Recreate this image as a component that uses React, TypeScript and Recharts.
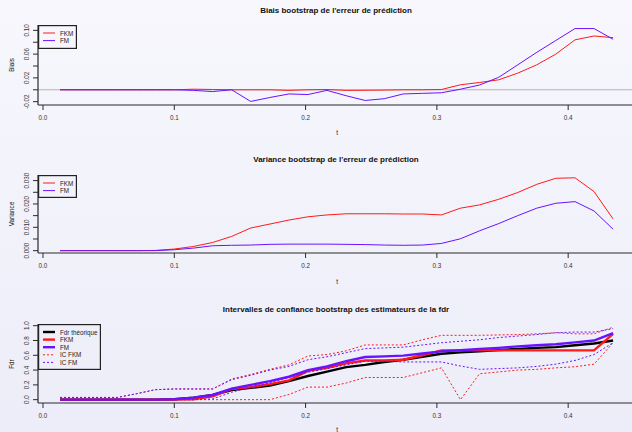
import React from 'react';
import { LineChart, Line, XAxis, YAxis, ReferenceLine } from 'recharts';

// grille des seuils t
const t = [
  0.013, 0.0275, 0.042, 0.0566, 0.0711, 0.0856, 0.1001, 0.1147, 0.1292, 0.1437,
  0.1582, 0.1728, 0.1873, 0.2018, 0.2163, 0.2309, 0.2454, 0.2599, 0.2744, 0.289,
  0.3035, 0.318, 0.3325, 0.3471, 0.3616, 0.3761, 0.3906, 0.4052, 0.4197, 0.4342,
];

// biais bootstrap
const biaisFKM = [
  0, 0, 0, 0, 0, 0, 0, 0.001, 0.0005, 0, 0, 0, -0.001, 0, 0.0005, -0.001, -0.0008, -0.0005, 0, 0,
  0.0005, 0.0084, 0.0123, 0.0168, 0.028, 0.042, 0.06, 0.084, 0.0905, 0.0877,
];
const biaisFM = [
  0, 0, 0, 0, 0, 0, 0, -0.001, -0.003, 0, -0.0196, -0.013, -0.007, -0.008, -0.001, -0.01, -0.018, -0.015, -0.007, -0.006,
  -0.005, 0.001, 0.008, 0.021, 0.042, 0.063, 0.083, 0.103, 0.103, 0.085,
];

// variance bootstrap
const varFKM = [
  0, 0, 0, 0, 0, 0.0001, 0.0007, 0.0018, 0.0035, 0.0061, 0.0097, 0.0114, 0.0131, 0.0145, 0.0153, 0.0158, 0.0158, 0.0158, 0.0157, 0.0157,
  0.0153, 0.0182, 0.0196, 0.022, 0.0249, 0.0284, 0.031, 0.0312, 0.0253, 0.0136,
];
const varFM = [
  0, 0, 0, 0, 0, 0, 0.0004, 0.0011, 0.0021, 0.0023, 0.0024, 0.0027, 0.0028, 0.0028, 0.0028, 0.0027, 0.0026, 0.0024, 0.0023, 0.0024,
  0.0031, 0.0051, 0.0085, 0.0116, 0.015, 0.0182, 0.0203, 0.021, 0.017, 0.0092,
];

// fdr et intervalles de confiance
const fdrTheo = [
  0, 0, 0, 0, 0, 0, 0.005, 0.027, 0.063, 0.13, 0.16, 0.19, 0.25, 0.32, 0.38, 0.44, 0.47, 0.51, 0.54, 0.58,
  0.62, 0.64, 0.655, 0.67, 0.685, 0.7, 0.71, 0.735, 0.76, 0.8,
];
const fdrFKM = [
  0, 0, 0, 0, 0, 0, 0, 0.005, 0.045, 0.145, 0.17, 0.21, 0.26, 0.39, 0.43, 0.49, 0.53, 0.53, 0.54, 0.6,
  0.667, 0.667, 0.667, 0.667, 0.667, 0.667, 0.667, 0.667, 0.667, 0.89,
];
const fdrFM = [
  0, 0, 0, 0, 0, 0, 0.005, 0.027, 0.063, 0.15, 0.2, 0.25, 0.31, 0.4, 0.45, 0.52, 0.577, 0.585, 0.595, 0.625,
  0.653, 0.668, 0.685, 0.7, 0.72, 0.735, 0.75, 0.775, 0.8, 0.9,
];
const icFKMup = [
  0.03, 0.03, 0.03, 0.03, 0.08, 0.135, 0.145, 0.145, 0.145, 0.28, 0.34, 0.41, 0.47, 0.59, 0.61, 0.66, 0.74, 0.74, 0.74, 0.81,
  0.87, 0.87, 0.87, 0.875, 0.88, 0.89, 0.905, 0.89, 0.89, 0.98,
];
const icFKMlow = [
  0, 0, 0, 0, 0, 0, 0, 0, 0, 0, 0, 0, 0.07, 0.17, 0.17, 0.225, 0.3, 0.3, 0.3, 0.365,
  0.43, 0, 0.35, 0.375, 0.4, 0.41, 0.43, 0.445, 0.48, 0.77,
];
const icFMup = [
  0.03, 0.03, 0.03, 0.03, 0.08, 0.135, 0.145, 0.145, 0.145, 0.27, 0.33, 0.4, 0.45, 0.54, 0.58, 0.635, 0.69, 0.7, 0.71, 0.74,
  0.77, 0.79, 0.81, 0.84, 0.86, 0.88, 0.905, 0.914, 0.914, 0.96,
];
const icFMlow = [
  0, 0, 0, 0, 0, 0, 0, 0, 0.01, 0.1, 0.17, 0.23, 0.3, 0.37, 0.42, 0.47, 0.52, 0.52, 0.51, 0.51,
  0.51, 0.455, 0.41, 0.42, 0.43, 0.45, 0.48, 0.53, 0.61, 0.77,
];

const xTicks = [0, 0.1, 0.2, 0.3, 0.4];
const biaisTicks = [-0.02, 0, 0.02, 0.04, 0.06, 0.08, 0.1];
const varTicks = [0, 0.005, 0.01, 0.015, 0.02, 0.025, 0.03];
const fdrTicks = [0, 0.2, 0.4, 0.6, 0.8, 1];

const RED = '#ff1a1a';
const BLUE = '#6a12ff';
const AXIS = '#2a2a2a';
const FONT = '"Liberation Sans", Arial, Helvetica, sans-serif';
const X_DOMAIN = [-0.0038, 0.4509];

const biaisData = t.map((v, i) => ({ t: v, fkm: biaisFKM[i], fm: biaisFM[i] }));
const varData = t.map((v, i) => ({ t: v, fkm: varFKM[i], fm: varFM[i] }));
const fdrData = t.map((v, i) => ({
  t: v,
  theo: fdrTheo[i],
  fkm: fdrFKM[i],
  fm: fdrFM[i],
  icFkmUp: icFKMup[i],
  icFkmLow: icFKMlow[i],
  icFmUp: icFMup[i],
  icFmLow: icFMlow[i],
}));

const XTick = (props: any) => (
  <text
    x={props.x}
    y={props.y + 7}
    textAnchor="middle"
    dominantBaseline="central"
    fontSize={6.3}
    fontFamily={FONT}
    fill="#333"
  >
    {Number(props.payload.value).toFixed(1)}
  </text>
);

const makeYTick = (step: number, digits: number) => (props: any) => {
  if (props.index % step !== 0) return <g />;
  const cx = props.x - 6;
  return (
    <text
      x={cx}
      y={props.y}
      transform={`rotate(-90, ${cx}, ${props.y})`}
      textAnchor="middle"
      dominantBaseline="central"
      fontSize={6.3}
      fontFamily={FONT}
      fill="#333"
    >
      {Number(props.payload.value).toFixed(digits)}
    </text>
  );
};

function Axes({ domain, ticks, step, digits, xHeight }: any) {
  return [
    <XAxis
      key="xb"
      dataKey="t"
      type="number"
      domain={X_DOMAIN}
      allowDataOverflow
      ticks={xTicks}
      interval={0}
      height={xHeight}
      tickSize={5}
      tickMargin={0}
      tick={<XTick />}
      axisLine={{ stroke: AXIS, strokeWidth: 1.2 }}
      tickLine={{ stroke: AXIS }}
    />,
    <XAxis
      key="xt"
      xAxisId="top"
      orientation="top"
      dataKey="t"
      type="number"
      domain={X_DOMAIN}
      allowDataOverflow
      height={0}
      tick={false}
      tickLine={false}
      axisLine={{ stroke: '#444', strokeWidth: 1.5 }}
    />,
    <YAxis
      key="y"
      type="number"
      domain={domain}
      allowDataOverflow
      ticks={ticks}
      interval={0}
      width={38}
      tickSize={5}
      tickMargin={0}
      tick={makeYTick(step, digits)}
      axisLine={{ stroke: AXIS, strokeWidth: 1.2 }}
      tickLine={{ stroke: AXIS }}
    />,
  ];
}

function LegendBox({ top, width, height, items }: any) {
  return (
    <g transform={`translate(38, ${top})`}>
      <rect x={0.6} y={0.6} width={width - 1.2} height={height - 1.2} fill="none" stroke="#222" strokeWidth={1.2} />
      {items.map((it: any, k: number) => {
        const y = 8 + k * 7.6;
        return (
          <g key={it.name}>
            <line x1={5} x2={17} y1={y} y2={y} stroke={it.color} strokeWidth={it.width} strokeDasharray={it.dash} />
            <text x={22} y={y} dominantBaseline="central" fontSize={6.3} fontFamily={FONT} fill="#222">
              {it.name}
            </text>
          </g>
        );
      })}
    </g>
  );
}

function Label({ x, y, text, bold, size, rotate }: any) {
  return (
    <text
      x={x}
      y={y}
      transform={rotate ? `rotate(-90, ${x}, ${y})` : undefined}
      textAnchor="middle"
      dominantBaseline="central"
      fontSize={size}
      fontWeight={bold ? 'bold' : 'normal'}
      fontFamily={FONT}
      fill="#111"
    >
      {text}
    </text>
  );
}

export default function App() {
  return (
    <div
      style={{
        position: 'fixed',
        left: 0,
        top: 0,
        width: 632,
        height: 432,
        overflow: 'hidden',
        background: 'linear-gradient(#f7f7fd, #ededf9)',
      }}
    >
      <div style={{ position: 'absolute', left: 0, top: 0 }}>
        <LineChart width={660} height={145} data={biaisData} margin={{ top: 25, right: 25, bottom: 0, left: 0 }}>
          {Axes({ domain: [-0.0256, 0.109], ticks: biaisTicks, step: 2, digits: 2, xHeight: 40 })}
          <ReferenceLine y={0} stroke="#b5b5b5" strokeWidth={1} />
          <Line type="linear" dataKey="fkm" stroke={RED} strokeWidth={1} dot={false} isAnimationActive={false} />
          <Line type="linear" dataKey="fm" stroke={BLUE} strokeWidth={1} dot={false} isAnimationActive={false} />
        </LineChart>
      </div>

      <div style={{ position: 'absolute', left: 0, top: 145 }}>
        <LineChart width={660} height={145} data={varData} margin={{ top: 30, right: 25, bottom: 0, left: 0 }}>
          {Axes({ domain: [-0.001, 0.0324], ticks: varTicks, step: 2, digits: 3, xHeight: 37 })}
          <Line type="linear" dataKey="fkm" stroke={RED} strokeWidth={1} dot={false} isAnimationActive={false} />
          <Line type="linear" dataKey="fm" stroke={BLUE} strokeWidth={1} dot={false} isAnimationActive={false} />
        </LineChart>
      </div>

      <div style={{ position: 'absolute', left: 0, top: 290 }}>
        <LineChart width={660} height={142} data={fdrData} margin={{ top: 34, right: 25, bottom: 0, left: 0 }}>
          {Axes({ domain: [-0.045, 1.023], ticks: fdrTicks, step: 1, digits: 1, xHeight: 29 })}
          <Line type="linear" dataKey="theo" stroke="#000" strokeWidth={2.4} dot={false} isAnimationActive={false} />
          <Line type="linear" dataKey="fkm" stroke={RED} strokeWidth={2.4} dot={false} isAnimationActive={false} />
          <Line type="linear" dataKey="fm" stroke={BLUE} strokeWidth={2.4} dot={false} isAnimationActive={false} />
          <Line type="linear" dataKey="icFkmUp" stroke={RED} strokeWidth={1} strokeDasharray="2 2" dot={false} isAnimationActive={false} />
          <Line type="linear" dataKey="icFkmLow" stroke={RED} strokeWidth={1} strokeDasharray="2 2" dot={false} isAnimationActive={false} />
          <Line type="linear" dataKey="icFmUp" stroke={BLUE} strokeWidth={1} strokeDasharray="2 2" dot={false} isAnimationActive={false} />
          <Line type="linear" dataKey="icFmLow" stroke={BLUE} strokeWidth={1} strokeDasharray="2 2" dot={false} isAnimationActive={false} />
        </LineChart>
      </div>

      <svg width={632} height={432} style={{ position: 'absolute', left: 0, top: 0, pointerEvents: 'none' }}>
        <Label x={336} y={10} text="Biais bootstrap de l'erreur de prédiction" bold size={8} />
        <Label x={336} y={159} text="Variance bootstrap de l'erreur de prédiction" bold size={8} />
        <Label x={336} y={309} text="Intervalles de confiance bootstrap des estimateurs de la fdr" bold size={8} />
        <Label x={337} y={132} text="t" size={6.3} />
        <Label x={337} y={281} text="t" size={6.3} />
        <Label x={337} y={429} text="t" size={6.3} />
        <Label x={11} y={65} text="Biais" size={6.3} rotate />
        <Label x={11} y={214} text="Variance" size={6.3} rotate />
        <Label x={11} y={364} text="Fdr" size={6.3} rotate />
        <LegendBox
          top={25}
          width={39}
          height={24}
          items={[
            { name: 'FKM', color: RED, width: 1 },
            { name: 'FM', color: BLUE, width: 1 },
          ]}
        />
        <LegendBox
          top={175}
          width={39}
          height={23}
          items={[
            { name: 'FKM', color: RED, width: 1 },
            { name: 'FM', color: BLUE, width: 1 },
          ]}
        />
        <LegendBox
          top={324}
          width={63}
          height={46}
          items={[
            { name: 'Fdr théorique', color: '#000', width: 2.4 },
            { name: 'FKM', color: RED, width: 2.4 },
            { name: 'FM', color: BLUE, width: 2.4 },
            { name: 'IC FKM', color: RED, width: 1, dash: '2 2' },
            { name: 'IC FM', color: BLUE, width: 1, dash: '2 2' },
          ]}
        />
      </svg>
    </div>
  );
}
